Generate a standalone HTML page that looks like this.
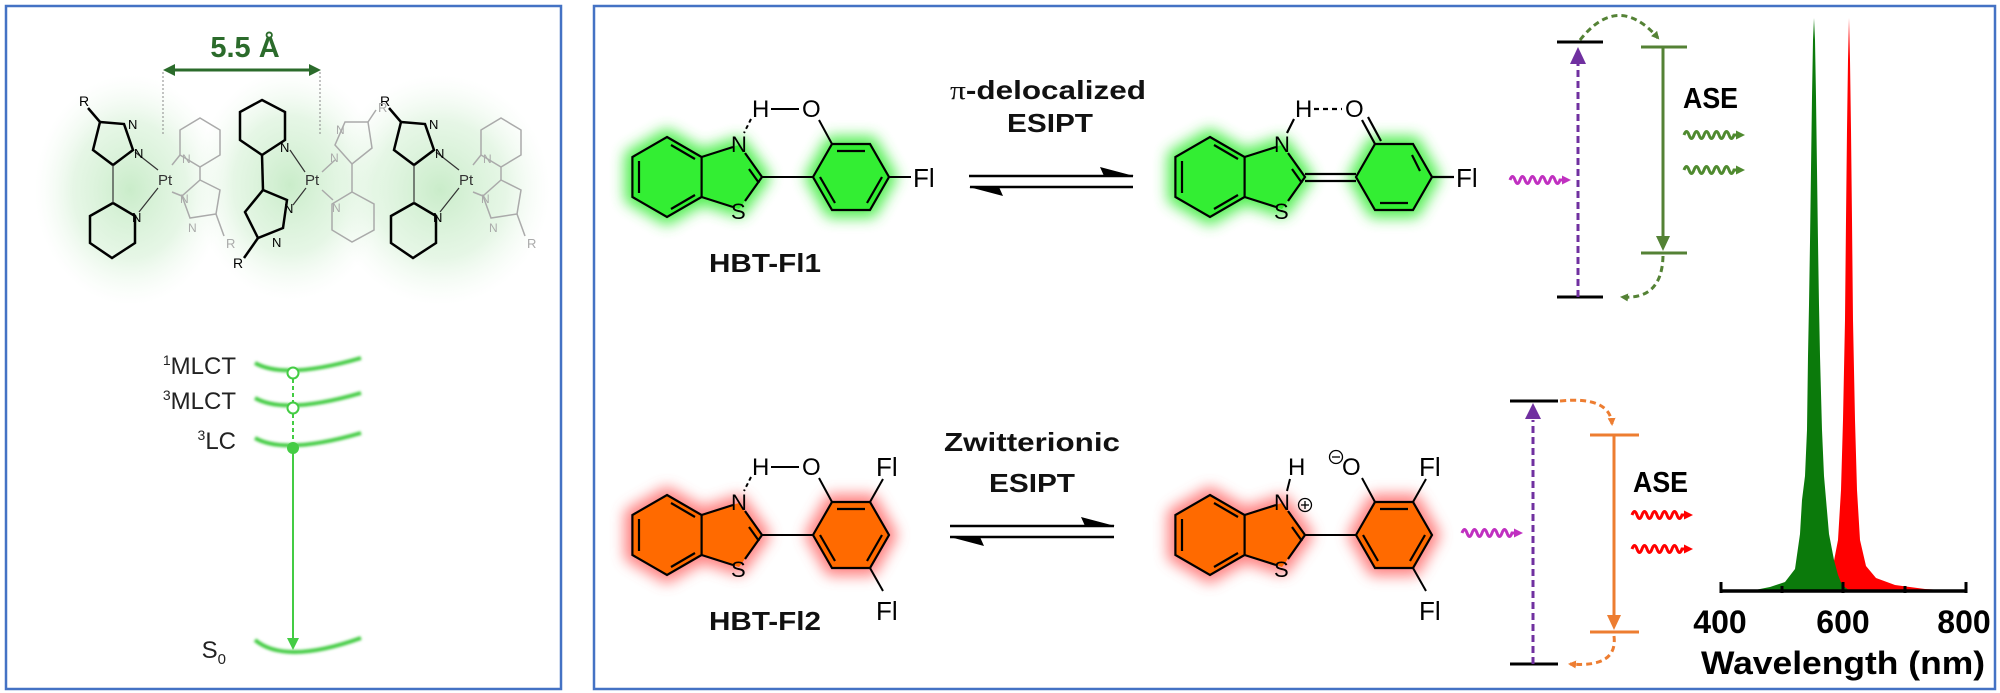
<!DOCTYPE html>
<html><head><meta charset="utf-8"><style>
html,body{margin:0;padding:0;background:#fff}
svg{display:block}
text{font-family:"Liberation Sans",sans-serif}
</style></head><body>
<svg width="2000" height="693" viewBox="0 0 2000 693" xmlns="http://www.w3.org/2000/svg">
<defs>
<filter id="blur8" x="-50%" y="-50%" width="200%" height="200%"><feGaussianBlur stdDeviation="7"/></filter>
<filter id="blur2" x="-50%" y="-50%" width="200%" height="200%"><feGaussianBlur stdDeviation="1.2"/></filter>
<radialGradient id="rg" cx="50%" cy="50%" r="50%">
<stop offset="0" stop-color="#b8e6b8" stop-opacity="0.75"/><stop offset="0.6" stop-color="#cdeecd" stop-opacity="0.5"/><stop offset="1" stop-color="#e8f7e8" stop-opacity="0"/></radialGradient>
<marker id="mg" markerWidth="8" markerHeight="8" refX="6" refY="4" orient="auto" markerUnits="userSpaceOnUse"><path d="M0,0 L8,4 L0,8z" fill="#548235"/></marker>
<marker id="mo" markerWidth="8" markerHeight="8" refX="6" refY="4" orient="auto" markerUnits="userSpaceOnUse"><path d="M0,0 L8,4 L0,8z" fill="#ed7d31"/></marker>
<marker id="mp" markerWidth="9" markerHeight="9" refX="6" refY="4.5" orient="auto" markerUnits="userSpaceOnUse"><path d="M0,0 L9,4.5 L0,9z" fill="#c030c0"/></marker>
<marker id="mr" markerWidth="9" markerHeight="9" refX="6" refY="4.5" orient="auto" markerUnits="userSpaceOnUse"><path d="M0,0 L9,4.5 L0,9z" fill="#ff0000"/></marker>
<marker id="mgw" markerWidth="9" markerHeight="9" refX="6" refY="4.5" orient="auto" markerUnits="userSpaceOnUse"><path d="M0,0 L9,4.5 L0,9z" fill="#4f8a2f"/></marker>
<path id="wave" d="M0,0 q2.5,-7 5,0 t5,0 t5,0 t5,0 t5,0 t5,0 t5,0 t5,0 t5,0 t5,0 l8,0"/>
<g id="rings">
<polygon points="0,-40 34.6,-20 34.6,20 0,40 -34.6,20 -34.6,-20"/>
<polygon points="34.6,-20 72,-32 95,0 72,32 34.6,20"/>
<polygon points="146,0 165,-33 203,-33 222,0 203,33 165,33"/>
</g>
<g id="benzo" fill="none" stroke="#000" stroke-width="2.2">
<polygon points="0,-40 34.6,-20 34.6,20 0,40 -34.6,20 -34.6,-20"/>
<line x1="-28" y1="-16" x2="-28" y2="16"/><line x1="4" y1="-32" x2="28" y2="-18"/><line x1="4" y1="32" x2="28" y2="18"/>
<polyline points="34.6,-20 66,-30"/><polyline points="78,-24 95,0 78,24"/><polyline points="66,30 34.6,20"/>
<line x1="82" y1="-8" x2="92" y2="6"/>
</g>
<g id="phen" fill="none" stroke="#000" stroke-width="2.2">
<polygon points="146,0 165,-33 203,-33 222,0 203,33 165,33"/>
<line x1="170" y1="-26" x2="198" y2="-26"/><line x1="215" y1="0" x2="200" y2="26"/><line x1="153" y1="0" x2="168" y2="26"/>
</g>
</defs>

<rect x="0" y="0" width="2000" height="693" fill="#fff"/>
<rect x="6" y="6" width="555" height="683" fill="none" stroke="#4472c4" stroke-width="2.5"/>
<rect x="594" y="6" width="1401" height="683" fill="none" stroke="#4472c4" stroke-width="2.5"/>

<ellipse cx="130" cy="190" rx="95" ry="115" fill="url(#rg)"/>
<ellipse cx="290" cy="185" rx="95" ry="115" fill="url(#rg)"/>
<ellipse cx="440" cy="190" rx="110" ry="115" fill="url(#rg)"/>
<text x="245" y="57" text-anchor="middle" font-size="29" font-weight="bold" fill="#2b6b2b" font-family="Liberation Serif, serif">5.5 Å</text>
<line x1="172" y1="70" x2="312" y2="70" stroke="#2b6b2b" stroke-width="3"/>
<path d="M163,70 l12,-6 v12z M321,70 l-12,-6 v12z" fill="#2b6b2b"/>
<line x1="163" y1="72" x2="163" y2="135" stroke="#888" stroke-width="1" stroke-dasharray="2,2"/>
<line x1="320" y1="72" x2="320" y2="135" stroke="#888" stroke-width="1" stroke-dasharray="2,2"/>

<g id="unitA">
 <g fill="none" stroke="#000" stroke-width="2.5">
  <polygon points="100,122 124,124 133,150 113,165 93,150"/>
  <polyline points="100,122 88,108"/>
  <polygon points="113,175 135,188 135,215 112,230 90,215 90,188" transform="translate(0,28)"/>
 </g>
 <g stroke="#333" stroke-width="1.2"><line x1="135" y1="152" x2="158" y2="170"/><line x1="139" y1="212" x2="158" y2="188"/><line x1="113" y1="165" x2="113" y2="203"/></g>
 <g fill="none" stroke="#aaa" stroke-width="1.5">
  <polygon points="200,118 220,130 220,155 200,167 180,155 180,130"/>
  <polygon points="200,180 220,190 216,214 190,218 182,196"/>
  <line x1="200" y1="167" x2="200" y2="180"/><line x1="172" y1="165" x2="180" y2="155"/><line x1="172" y1="192" x2="182" y2="196"/>
  <line x1="216" y1="214" x2="224" y2="236"/>
 </g>
 <text x="84" y="106" font-size="14" text-anchor="middle">R</text>
 <text x="128" y="129" font-size="13">N</text><text x="134" y="158" font-size="13">N</text>
 <text x="132" y="222" font-size="13">N</text>
 <text x="158" y="185" font-size="15" fill="#333">Pt</text>
 <text x="182" y="163" font-size="12" fill="#aaa">N</text><text x="180" y="203" font-size="12" fill="#aaa">N</text>
 <text x="188" y="232" font-size="12" fill="#aaa">N</text><text x="226" y="248" font-size="13" fill="#aaa">R</text>
</g>
<use href="#unitA" transform="translate(301,0)"/>
<g>
 <g fill="none" stroke="#000" stroke-width="2.5">
  <polygon points="262,100 285,112 285,140 262,155 240,140 240,112"/>
  <polygon points="263,190 287,200 283,228 258,238 245,212"/>
  <line x1="262" y1="155" x2="263" y2="190"/><line x1="258" y1="238" x2="244" y2="258"/>
 </g>
 <g stroke="#333" stroke-width="1.2"><line x1="290" y1="150" x2="305" y2="172"/><line x1="293" y1="205" x2="306" y2="188"/></g>
 <g fill="none" stroke="#aaa" stroke-width="1.5">
  <polygon points="345,122 368,122 372,148 352,164 335,145"/>
  <polygon points="352,192 374,204 374,230 352,242 332,230 332,204"/>
  <line x1="352" y1="164" x2="352" y2="192"/><line x1="368" y1="122" x2="376" y2="110"/>
  <line x1="322" y1="172" x2="335" y2="160"/><line x1="322" y1="190" x2="333" y2="200"/>
 </g>
 <text x="280" y="152" font-size="13">N</text><text x="284" y="213" font-size="13">N</text><text x="272" y="247" font-size="13">N</text>
 <text x="238" y="268" font-size="14" text-anchor="middle">R</text>
 <text x="305" y="185" font-size="15" fill="#333">Pt</text>
 <text x="336" y="134" font-size="12" fill="#aaa">N</text><text x="330" y="162" font-size="12" fill="#aaa">N</text>
 <text x="332" y="212" font-size="12" fill="#aaa">N</text><text x="378" y="112" font-size="13" fill="#aaa">R</text>
</g>

<g fill="none" stroke="#44cc44" stroke-width="4" filter="url(#blur2)">
 <path d="M255,363 Q285,380 361,358"/>
 <path d="M255,398 Q285,415 361,393"/>
 <path d="M255,438 Q285,455 361,433"/>
 <path d="M255,640 Q285,665 361,638"/>
</g>
<g stroke="#44cc44" stroke-width="2">
 <line x1="293" y1="379" x2="293" y2="402" stroke-dasharray="4,3"/>
 <line x1="293" y1="414" x2="293" y2="442" stroke-dasharray="4,3"/>
 <line x1="293" y1="450" x2="293" y2="640"/>
</g>
<path d="M287,638 L299,638 L293,650z" fill="#44cc44"/>
<circle cx="293" cy="373" r="5.5" fill="#fff" stroke="#44cc44" stroke-width="2"/>
<circle cx="293" cy="408" r="5.5" fill="#fff" stroke="#44cc44" stroke-width="2"/>
<circle cx="293" cy="448" r="6" fill="#44cc44"/>
<g font-size="24" fill="#222" text-anchor="end">
 <text x="236" y="374"><tspan font-size="14" dy="-9">1</tspan><tspan dy="9">MLCT</tspan></text>
 <text x="236" y="409"><tspan font-size="14" dy="-9">3</tspan><tspan dy="9">MLCT</tspan></text>
 <text x="236" y="449"><tspan font-size="14" dy="-9">3</tspan><tspan dy="9">LC</tspan></text>
 <text x="226" y="658">S<tspan font-size="15" dy="6">0</tspan></text>
</g>

<g fill="#22e022" stroke="#44ee44" stroke-width="16" stroke-linejoin="round" filter="url(#blur8)" opacity="0.9">
 <use href="#rings" transform="translate(667,177)"/>
 <use href="#rings" transform="translate(1210,177)"/>
</g>
<g fill="#ff5030" stroke="#ff5a5a" stroke-width="16" stroke-linejoin="round" filter="url(#blur8)" opacity="0.75">
 <use href="#rings" transform="translate(667,535)"/>
 <use href="#rings" transform="translate(1210,535)"/>
</g>
<g fill="#33ee33"><use href="#rings" transform="translate(667,177)"/><use href="#rings" transform="translate(1210,177)"/></g>
<g fill="#ff6a00"><use href="#rings" transform="translate(667,535)"/><use href="#rings" transform="translate(1210,535)"/></g>

<g transform="translate(667,177)">
 <use href="#benzo"/><use href="#phen"/>
 <g stroke="#000" stroke-width="2" fill="none">
  <line x1="95" y1="0" x2="146" y2="0"/><line x1="165" y1="-33" x2="152" y2="-57"/>
  <line x1="222" y1="0" x2="244" y2="0"/><line x1="104" y1="-68" x2="132" y2="-68"/>
  <line x1="84" y1="-58" x2="77" y2="-44" stroke-dasharray="4,3"/>
 </g>
 <text x="64" y="-25" font-size="22">N</text><text x="64" y="42" font-size="22">S</text>
 <text x="85" y="-60" font-size="24">H</text><text x="135" y="-60" font-size="24">O</text>
 <text x="246" y="10" font-size="26">Fl</text>
</g>
<g transform="translate(1210,177)">
 <use href="#benzo"/>
 <g fill="none" stroke="#000" stroke-width="2.2">
  <polygon points="146,0 165,-33 203,-33 222,0 203,33 165,33"/>
  <line x1="208" y1="-24" x2="216" y2="-8" transform="translate(-6,2)"/><line x1="170" y1="26" x2="198" y2="26"/>
  <line x1="95" y1="-3" x2="146" y2="-3"/><line x1="95" y1="4" x2="146" y2="4"/>
  <line x1="165" y1="-33" x2="152" y2="-57"/><line x1="171" y1="-36" x2="158" y2="-60"/>
  <line x1="222" y1="0" x2="244" y2="0"/><line x1="104" y1="-68" x2="132" y2="-68" stroke-dasharray="5,4"/>
  <line x1="84" y1="-58" x2="77" y2="-44"/>
 </g>
 <text x="64" y="-25" font-size="22">N</text><text x="64" y="42" font-size="22">S</text>
 <text x="85" y="-60" font-size="24">H</text><text x="135" y="-60" font-size="24">O</text>
 <text x="246" y="10" font-size="26">Fl</text>
</g>
<g transform="translate(667,535)">
 <use href="#benzo"/><use href="#phen"/>
 <g stroke="#000" stroke-width="2" fill="none">
  <line x1="95" y1="0" x2="146" y2="0"/><line x1="165" y1="-33" x2="152" y2="-57"/>
  <line x1="203" y1="-33" x2="216" y2="-56"/><line x1="203" y1="33" x2="216" y2="56"/>
  <line x1="104" y1="-68" x2="132" y2="-68"/>
  <line x1="84" y1="-58" x2="77" y2="-44" stroke-dasharray="4,3"/>
 </g>
 <text x="64" y="-25" font-size="22">N</text><text x="64" y="42" font-size="22">S</text>
 <text x="85" y="-60" font-size="24">H</text><text x="135" y="-60" font-size="24">O</text>
 <text x="209" y="-59" font-size="26">Fl</text><text x="209" y="85" font-size="26">Fl</text>
</g>
<g transform="translate(1210,535)">
 <use href="#benzo"/><use href="#phen"/>
 <g stroke="#000" stroke-width="2" fill="none">
  <line x1="95" y1="0" x2="146" y2="0"/><line x1="165" y1="-33" x2="152" y2="-57"/>
  <line x1="203" y1="-33" x2="216" y2="-56"/><line x1="203" y1="33" x2="216" y2="56"/>
  <line x1="80" y1="-56" x2="77" y2="-44"/>
  <circle cx="95" cy="-30" r="6.5" stroke-width="1.3"/><line x1="91" y1="-30" x2="99" y2="-30" stroke-width="1.3"/><line x1="95" y1="-34" x2="95" y2="-26" stroke-width="1.3"/>
  <circle cx="126" cy="-78" r="6.5" stroke-width="1.3"/><line x1="122" y1="-78" x2="130" y2="-78" stroke-width="1.3"/>
 </g>
 <text x="64" y="-25" font-size="22">N</text><text x="64" y="42" font-size="22">S</text>
 <text x="78" y="-60" font-size="24">H</text><text x="132" y="-60" font-size="24">O</text>
 <text x="209" y="-59" font-size="26">Fl</text><text x="209" y="85" font-size="26">Fl</text>
</g>

<g font-weight="bold" font-size="26" text-anchor="middle" fill="#111">
 <text x="765" y="272" textLength="112" lengthAdjust="spacingAndGlyphs">HBT-Fl1</text>
 <text x="765" y="630" textLength="112" lengthAdjust="spacingAndGlyphs">HBT-Fl2</text>
 <text x="1048" y="99" textLength="196" lengthAdjust="spacingAndGlyphs"><tspan font-family="Liberation Serif, serif" font-weight="normal">π</tspan>-delocalized</text>
 <text x="1050" y="132" textLength="86" lengthAdjust="spacingAndGlyphs">ESIPT</text>
 <text x="1032" y="451" textLength="176" lengthAdjust="spacingAndGlyphs">Zwitterionic</text>
 <text x="1032" y="492" textLength="86" lengthAdjust="spacingAndGlyphs">ESIPT</text>
</g>
<g stroke="#000" stroke-width="2.5">
 <line x1="969" y1="176" x2="1133" y2="176"/><line x1="970" y1="187" x2="1133" y2="187"/>
 <line x1="950" y1="526" x2="1114" y2="526"/><line x1="950" y1="537" x2="1114" y2="537"/>
</g>
<path d="M1134,176 L1100,167 L1104,176z M969,187 L1003,196 L999,187z M1115,526 L1081,517 L1085,526z M950,537 L984,546 L980,537z" fill="#000"/>

<g stroke-width="3">
 <line x1="1557" y1="42" x2="1603" y2="42" stroke="#000"/>
 <line x1="1557" y1="297" x2="1603" y2="297" stroke="#000"/>
 <line x1="1578" y1="297" x2="1578" y2="62" stroke="#7030a0" stroke-dasharray="7,4"/>
 <line x1="1641" y1="47" x2="1687" y2="47" stroke="#548235"/>
 <line x1="1641" y1="253" x2="1687" y2="253" stroke="#548235"/>
 <line x1="1663" y1="47" x2="1663" y2="238" stroke="#548235"/>
 <path d="M1580,40 Q1618,-8 1658,38" fill="none" stroke="#548235" stroke-dasharray="6,4" marker-end="url(#mg)"/>
 <path d="M1663,256 Q1662,300 1622,297" fill="none" stroke="#548235" stroke-dasharray="6,4" marker-end="url(#mg)"/>
</g>
<path d="M1570,64 L1586,64 L1578,47z" fill="#7030a0"/>
<path d="M1656,236 L1670,236 L1663,251z" fill="#548235"/>
<text x="1683" y="108" font-size="29" font-weight="bold" textLength="55" lengthAdjust="spacingAndGlyphs">ASE</text>
<g fill="none" stroke-width="3">
 <use href="#wave" transform="translate(1684,135)" stroke="#4f8a2f" marker-end="url(#mgw)"/>
 <use href="#wave" transform="translate(1684,170)" stroke="#4f8a2f" marker-end="url(#mgw)"/>
 <use href="#wave" transform="translate(1510,180)" stroke="#c030c0" marker-end="url(#mp)"/>
</g>
<g stroke-width="3">
 <line x1="1510" y1="401" x2="1558" y2="401" stroke="#000"/>
 <line x1="1510" y1="664" x2="1558" y2="664" stroke="#000"/>
 <line x1="1533" y1="664" x2="1533" y2="420" stroke="#7030a0" stroke-dasharray="7,4"/>
 <line x1="1590" y1="435" x2="1639" y2="435" stroke="#ed7d31"/>
 <line x1="1590" y1="632" x2="1639" y2="632" stroke="#ed7d31"/>
 <line x1="1614" y1="435" x2="1614" y2="618" stroke="#ed7d31"/>
 <path d="M1560,401 Q1610,396 1612,424" fill="none" stroke="#ed7d31" stroke-dasharray="6,4" marker-end="url(#mo)"/>
 <path d="M1614,636 Q1618,668 1570,664" fill="none" stroke="#ed7d31" stroke-dasharray="6,4" marker-end="url(#mo)"/>
</g>
<path d="M1525,419 L1541,419 L1533,403z" fill="#7030a0"/>
<path d="M1607,615 L1621,615 L1614,630z" fill="#ed7d31"/>
<text x="1633" y="492" font-size="29" font-weight="bold" textLength="55" lengthAdjust="spacingAndGlyphs">ASE</text>
<g fill="none" stroke-width="3">
 <use href="#wave" transform="translate(1632,515)" stroke="#ff0000" marker-end="url(#mr)"/>
 <use href="#wave" transform="translate(1632,549)" stroke="#ff0000" marker-end="url(#mr)"/>
 <use href="#wave" transform="translate(1462,533)" stroke="#c030c0" marker-end="url(#mp)"/>
</g>

<path d="M1770,591 L1789,586 L1810,580 L1825,574 L1833,566 L1838,540 L1841,490 L1843,420 L1845,320 L1846,220 L1847,130 L1848,60 L1849,18 L1850,60 L1851,130 L1852,220 L1853,320 L1855,420 L1857,490 L1860,540 L1866,566 L1876,578 L1895,585 L1925,589 L1960,591 Z" fill="#ff0000"/>
<path d="M1750,591 L1770,587 L1785,582 L1795,569 L1800,534 L1802,500 L1805,476 L1807,430 L1808,356 L1809,305 L1810,242 L1811,170 L1812,97 L1813,40 L1814,18 L1815,40 L1816,97 L1817,170 L1818,242 L1819,305 L1820,356 L1822,430 L1824,476 L1829,534 L1834,560 L1838,575 L1842,585 L1850,591 Z" fill="#0b7a0b"/>
<line x1="1720" y1="591" x2="1967" y2="591" stroke="#000" stroke-width="3.5"/>
<g stroke="#000" stroke-width="3"><line x1="1721" y1="582" x2="1721" y2="593"/><line x1="1782" y1="586" x2="1782" y2="593"/><line x1="1843" y1="582" x2="1843" y2="593"/><line x1="1905" y1="586" x2="1905" y2="593"/><line x1="1966" y1="582" x2="1966" y2="593"/></g>
<g font-size="32" font-weight="bold" text-anchor="middle">
 <text x="1720" y="633">400</text><text x="1843" y="633">600</text><text x="1964" y="633">800</text>
 <text x="1843" y="674" textLength="284" lengthAdjust="spacingAndGlyphs">Wavelength (nm)</text>
</g>
</svg>
</body></html>
